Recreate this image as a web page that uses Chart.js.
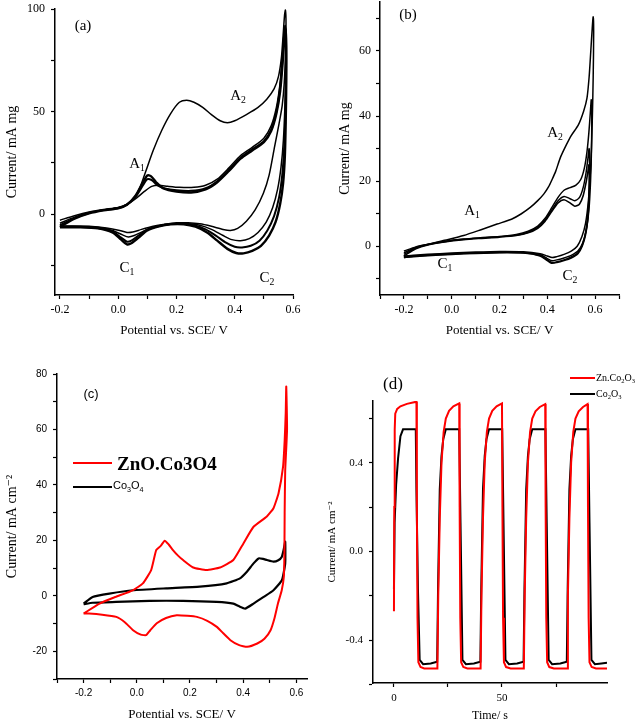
<!DOCTYPE html>
<html>
<head>
<meta charset="utf-8">
<title>CV and chronoamperometry</title>
<script src="https://cdn.jsdelivr.net/npm/chart.js@4.4.1/dist/chart.umd.min.js"></script>
<style>
body{margin:0;background:#fff;}
#page{position:relative;width:641px;height:722px;overflow:hidden;font-family:"Liberation Serif",serif;color:#000;}
canvas{position:absolute;}
.lbl{position:absolute;white-space:nowrap;line-height:1;transform:translate(-50%,-50%);}
.lft{transform:translate(0,-50%);}
.s{font-size:0.65em;position:relative;top:0.35em;}
.sw{position:absolute;height:2px;}
</style>
</head>
<body>
<div id="page">
  <canvas id="ca" width="320" height="355" style="left:0;top:-10px"></canvas>
  <canvas id="cb" width="321" height="355" style="left:320px;top:-10px"></canvas>
  <canvas id="cc" width="320" height="377" style="left:0;top:345px"></canvas>
  <canvas id="cd" width="321" height="377" style="left:320px;top:345px"></canvas>

  <!-- panel labels -->
  <div class="lbl" style="left:83px;top:25px;font-size:15px">(a)</div>
  <div class="lbl" style="left:238px;top:95px;font-size:15px">A<span class="s">2</span></div>
  <div class="lbl" style="left:137px;top:163px;font-size:15px">A<span class="s">1</span></div>
  <div class="lbl" style="left:127px;top:267px;font-size:15px">C<span class="s">1</span></div>
  <div class="lbl" style="left:267px;top:277px;font-size:15px">C<span class="s">2</span></div>

  <div class="lbl" style="left:408px;top:14px;font-size:15px">(b)</div>
  <div class="lbl" style="left:555px;top:132px;font-size:15px">A<span class="s">2</span></div>
  <div class="lbl" style="left:472px;top:210px;font-size:15px">A<span class="s">1</span></div>
  <div class="lbl" style="left:445px;top:263px;font-size:15px">C<span class="s">1</span></div>
  <div class="lbl" style="left:570px;top:275px;font-size:15px">C<span class="s">2</span></div>

  <div class="lbl" style="left:91px;top:393px;font-size:13px;font-family:'Liberation Sans',sans-serif">(c)</div>
  <div class="sw" style="left:73px;top:462px;width:39px;background:#ff0000"></div>
  <div class="lbl lft" style="left:117px;top:463px;font-size:19px;font-weight:bold">ZnO.Co3O4</div>
  <div class="sw" style="left:73px;top:486px;width:39px;background:#000"></div>
  <div class="lbl lft" style="left:113px;top:486px;font-size:11px;font-family:'Liberation Sans',sans-serif">Co<span class="s">3</span>O<span class="s">4</span></div>

  <div class="lbl" style="left:393px;top:383px;font-size:17px">(d)</div>
  <div class="sw" style="left:570px;top:377px;width:25px;background:#ff0000"></div>
  <div class="lbl lft" style="left:596px;top:378px;font-size:10px">Zn.Co<span class="s">2</span>O<span class="s">3</span></div>
  <div class="sw" style="left:570px;top:393px;width:25px;background:#000"></div>
  <div class="lbl lft" style="left:596px;top:394px;font-size:10px">Co<span class="s">2</span>O<span class="s">3</span></div>
</div>
<script>
// (a) CV cycles, [potential V, current]
var aCycle1 = [[-0.2,-3],[-0.15,-0.8],[-0.1,1],[-0.05,2.2],[0,3.2],[0.03,4.8],[0.055,8],[0.075,13],[0.095,21],[0.12,31],[0.15,41],[0.18,49],[0.21,54.5],[0.235,55.5],[0.26,54.5],[0.29,52],[0.32,48.5],[0.35,45.5],[0.375,44.5],[0.4,45.5],[0.44,48.5],[0.48,52],[0.51,56],[0.535,61],[0.55,67],[0.56,76],[0.566,87],[0.571,97],[0.574,99.5],[0.576,93],[0.574,78],[0.57,64],[0.563,53],[0.552,44],[0.537,33],[0.518,19],[0.498,10],[0.47,2],[0.44,-3.5],[0.41,-7],[0.385,-8],[0.36,-7.5],[0.32,-6],[0.28,-4.8],[0.24,-4.3],[0.2,-4.3],[0.16,-5],[0.12,-6],[0.08,-7.5],[0.05,-8.8],[0.03,-9],[0.005,-8],[-0.04,-6.8],[-0.1,-6],[-0.16,-5.8],[-0.2,-5.8]];
var aCycle2 = [[-0.2,-4.5],[-0.15,-1.5],[-0.1,0.8],[-0.05,2],[0,3],[0.03,4.6],[0.06,7.5],[0.09,11],[0.115,13.5],[0.14,14],[0.17,13.5],[0.21,13],[0.26,13],[0.3,14],[0.34,17],[0.38,22.5],[0.42,28.5],[0.46,32.5],[0.5,37],[0.525,43],[0.543,52],[0.555,63],[0.563,76],[0.569,88],[0.573,92],[0.576,86],[0.575,70],[0.572,52],[0.567,36],[0.559,23],[0.547,12],[0.53,3],[0.508,-4],[0.48,-9],[0.45,-12],[0.42,-13],[0.39,-12.5],[0.36,-10.5],[0.32,-7.5],[0.28,-5.5],[0.24,-4.8],[0.2,-4.8],[0.16,-5.3],[0.12,-6.5],[0.085,-8.5],[0.055,-10.5],[0.035,-11.2],[0.015,-10.2],[-0.02,-8],[-0.07,-6.5],[-0.13,-6],[-0.2,-6]];
var aCycle3 = [[-0.2,-5.5],[-0.15,-2],[-0.1,0.5],[-0.05,1.9],[0,2.9],[0.03,4.6],[0.06,8.5],[0.085,14],[0.1,17],[0.115,16.5],[0.135,14],[0.16,12.5],[0.2,11.6],[0.25,11.3],[0.3,12.6],[0.34,16],[0.38,21.5],[0.42,27.5],[0.46,31.5],[0.5,35.5],[0.525,41],[0.543,50],[0.555,61],[0.563,74],[0.569,86],[0.573,91],[0.576,84],[0.576,68],[0.574,50],[0.57,33],[0.563,19],[0.552,8],[0.535,-1],[0.512,-8],[0.485,-13],[0.455,-15.5],[0.425,-16.3],[0.4,-16],[0.37,-14],[0.335,-10.5],[0.3,-7.5],[0.26,-5.5],[0.22,-4.8],[0.18,-4.9],[0.14,-5.8],[0.1,-7.5],[0.07,-10.5],[0.045,-13],[0.03,-13.5],[0.01,-11.5],[-0.02,-8.5],[-0.07,-6.8],[-0.13,-6.3],[-0.2,-6.3]];
var aCycle4 = [[-0.2,-6.3],[-0.15,-2.3],[-0.1,0.3],[-0.05,1.8],[0,2.8],[0.03,4.5],[0.06,9],[0.085,15.5],[0.1,18.8],[0.112,18.5],[0.13,15.5],[0.155,12.5],[0.2,11],[0.25,10.5],[0.3,12],[0.34,15.5],[0.38,21],[0.42,27],[0.46,31],[0.5,35],[0.525,40.5],[0.543,49],[0.556,60],[0.564,73],[0.57,85],[0.574,90],[0.577,82],[0.577,65],[0.575,45],[0.572,28],[0.566,15],[0.556,5],[0.54,-4],[0.518,-10.5],[0.49,-15.5],[0.46,-18],[0.43,-19.2],[0.405,-19],[0.375,-17],[0.34,-13],[0.305,-9],[0.265,-6.2],[0.225,-5],[0.18,-5],[0.14,-6],[0.1,-8],[0.07,-11.5],[0.045,-14.3],[0.03,-14.8],[0.01,-12.5],[-0.02,-9],[-0.07,-7],[-0.13,-6.5],[-0.2,-6.5]];

// (b) CV cycles
var bCycle1 = [[-0.2,-1.5],[-0.15,-0.2],[-0.09,0.7],[-0.03,1.8],[0.05,3.3],[0.12,5],[0.19,6.8],[0.25,8.3],[0.29,9.9],[0.33,12],[0.36,14],[0.385,16],[0.405,18.2],[0.42,20.5],[0.435,23],[0.455,27.3],[0.48,31.2],[0.5,34],[0.53,37.3],[0.552,41.5],[0.566,45.5],[0.575,52],[0.582,60],[0.588,67],[0.592,70.5],[0.594,66],[0.592,52],[0.588,38],[0.582,25],[0.572,14],[0.56,7],[0.545,3],[0.525,0],[0.5,-1.5],[0.47,-2.5],[0.44,-3.2],[0.42,-3.5],[0.4,-3],[0.37,-2.3],[0.3,-1.7],[0.2,-1.6],[0.1,-1.8],[0,-2.1],[-0.1,-2.5],[-0.16,-2.8],[-0.2,-3]];
var bCycle2 = [[-0.2,-2],[-0.15,-0.4],[-0.1,0.6],[-0.03,1.5],[0.05,2.2],[0.12,2.6],[0.2,3],[0.27,3.6],[0.32,4.6],[0.36,6.2],[0.39,8.5],[0.42,12],[0.445,15],[0.47,17.2],[0.495,18],[0.52,18.8],[0.54,20.5],[0.555,24],[0.566,29],[0.574,35],[0.58,41],[0.584,45],[0.586,40],[0.585,30],[0.581,20],[0.574,11],[0.563,5],[0.548,1],[0.528,-1.5],[0.5,-2.8],[0.47,-3.6],[0.44,-4.2],[0.42,-4.5],[0.4,-3.8],[0.37,-2.6],[0.3,-1.9],[0.2,-1.8],[0.1,-2],[0,-2.3],[-0.1,-2.7],[-0.16,-3],[-0.2,-3.2]];
var bCycle3 = [[-0.2,-2.5],[-0.15,-0.6],[-0.1,0.5],[-0.03,1.4],[0.05,2.1],[0.12,2.5],[0.2,2.9],[0.27,3.4],[0.32,4.3],[0.36,5.8],[0.39,8],[0.42,11.3],[0.445,14],[0.47,15.3],[0.495,14.6],[0.515,14],[0.535,15],[0.55,18],[0.562,22.5],[0.57,27],[0.575,30],[0.577,25],[0.575,17],[0.57,10],[0.561,4.5],[0.547,0.5],[0.528,-2],[0.5,-3.3],[0.47,-4.2],[0.44,-4.8],[0.42,-5],[0.4,-4.2],[0.37,-2.9],[0.3,-2],[0.2,-1.9],[0.1,-2.1],[0,-2.4],[-0.1,-2.8],[-0.16,-3.1],[-0.2,-3.4]];
var bCycle4 = [[-0.2,-3],[-0.15,-0.8],[-0.1,0.4],[-0.03,1.3],[0.05,2],[0.12,2.4],[0.2,2.8],[0.27,3.3],[0.32,4.1],[0.36,5.5],[0.39,7.6],[0.42,10.8],[0.445,13.3],[0.47,14.3],[0.495,13.3],[0.515,12.3],[0.535,13],[0.55,15.5],[0.562,19.5],[0.57,23],[0.574,25],[0.576,21],[0.574,14],[0.569,8],[0.56,3.5],[0.546,0],[0.528,-2.3],[0.5,-3.6],[0.47,-4.4],[0.44,-5],[0.418,-5.2],[0.4,-4.4],[0.37,-3],[0.3,-2.1],[0.2,-2],[0.1,-2.2],[0,-2.5],[-0.1,-2.9],[-0.16,-3.2],[-0.2,-3.5]];

// (c) ZnO.Co3O4 vs Co3O4
var cZnO = [[-0.2,-6.4],[-0.14,-2.8],[-0.08,-0.4],[-0.015,2],[0.023,4.5],[0.054,9.3],[0.073,16.5],[0.09,18],[0.105,19.9],[0.12,18.5],[0.136,16.5],[0.155,14.5],[0.174,12.9],[0.212,10.2],[0.262,9.3],[0.313,10.2],[0.363,12.9],[0.401,18.9],[0.439,24.9],[0.489,28.6],[0.514,31.6],[0.533,37],[0.55,46.6],[0.556,56],[0.56,66],[0.562,75.5],[0.565,60],[0.558,45],[0.556,30],[0.555,15],[0.553,7],[0.545,2],[0.531,-2.7],[0.518,-8],[0.503,-12.4],[0.48,-15.5],[0.453,-17.2],[0.415,-18.4],[0.385,-17.8],[0.352,-16],[0.325,-13.5],[0.301,-11.2],[0.265,-9],[0.226,-7.6],[0.19,-7.2],[0.15,-7],[0.11,-8],[0.075,-9.9],[0.05,-12.5],[0.035,-14.2],[0.015,-14],[-0.014,-12.4],[-0.045,-9.5],[-0.077,-7.6],[-0.13,-6.8],[-0.179,-6.4],[-0.2,-6.4]];
var cCo = [[-0.2,-2.8],[-0.166,-0.4],[-0.103,0.8],[-0.015,2],[0.111,2.7],[0.237,3.3],[0.338,4.5],[0.388,6.3],[0.414,8.7],[0.439,11.7],[0.458,13.5],[0.475,13.3],[0.489,12.9],[0.514,12.3],[0.532,12.8],[0.545,14],[0.552,16.5],[0.558,19.5],[0.558,11.7],[0.546,5.7],[0.514,2],[0.477,-0.4],[0.439,-2.8],[0.407,-4.6],[0.385,-3.8],[0.363,-2.8],[0.3,-2.2],[0.174,-1.8],[0.048,-1.8],[-0.078,-2.2],[-0.166,-2.5],[-0.2,-3]];

// (d) chronoamperometry, [time s, current]
var dZnCo = [[0,-0.27],[0.15,0.2],[0.35,0.55],[0.6,0.622],[1.5,0.643],[3,0.655],[6,0.666],[10.4,0.676],
  [10.6,0.2],[10.9,-0.3],[11.3,-0.5],[12.3,-0.522],[14,-0.528],[20.1,-0.528],
  [20.5,-0.2],[21.2,0.15],[22,0.4],[23,0.54],[24,0.6],[25.5,0.635],[27.5,0.655],[30.2,0.668],
  [30.4,0.2],[30.7,-0.3],[31.1,-0.5],[32.1,-0.522],[34,-0.528],[40.1,-0.528],
  [40.5,-0.2],[41.2,0.15],[42,0.4],[43,0.54],[44,0.6],[45.5,0.635],[47.5,0.655],[50,0.668],
  [50.2,0.2],[50.5,-0.3],[50.9,-0.5],[51.9,-0.522],[54,-0.528],[60.1,-0.528],
  [60.5,-0.2],[61.2,0.15],[62,0.4],[63,0.54],[64,0.6],[65.5,0.632],[67.5,0.652],[70,0.665],
  [70.2,0.2],[70.5,-0.3],[70.9,-0.5],[71.9,-0.522],[74,-0.528],[80.1,-0.528],
  [80.5,-0.2],[81.2,0.15],[82,0.4],[83,0.54],[84,0.6],[85.5,0.632],[87.5,0.652],[89.6,0.665],
  [89.8,0.2],[90.1,-0.3],[90.5,-0.5],[91.5,-0.522],[93.5,-0.528],[98.6,-0.528]];
var dCo = [[0,-0.17],[0.3,0.13],[1,0.3],[1.9,0.42],[3,0.52],[4.2,0.551],[10.1,0.551],[10.4,0.28],[11.1,-0.17],[11.9,-0.49],[13.5,-0.509],[17,-0.506],[20,-0.498],
  [20.4,-0.17],[21.2,0.28],[22,0.43],[22.8,0.506],[24,0.551],[30.2,0.551],[30.8,0.13],[31.7,-0.49],[33.3,-0.509],[37,-0.506],[40,-0.498],
  [40.4,-0.17],[41.2,0.28],[42,0.43],[42.8,0.506],[44,0.551],[50.1,0.551],[50.7,0.13],[51.6,-0.49],[53.2,-0.509],[57,-0.506],[60,-0.498],
  [60.4,-0.17],[61.2,0.28],[62,0.43],[62.8,0.506],[64,0.551],[70.1,0.551],[70.7,0.13],[71.6,-0.49],[73.2,-0.509],[77,-0.506],[80,-0.498],
  [80.4,-0.17],[81.2,0.28],[82,0.43],[82.8,0.506],[84,0.551],[89.9,0.551],[90.5,0.13],[91.4,-0.49],[93,-0.509],[96,-0.506],[98.6,-0.503]];

// ticks and labels
var xTicksA = [-0.2,-0.1,0,0.1,0.2,0.3,0.4,0.5,0.6];
var xLabelsA = ['-0.2','','0.0','','0.2','','0.4','','0.6'];
var yTicksA = [-25,0,25,50,75,100];
var yLabelsA = ['','0','','50','','100'];
var xTicksB = [-0.3,-0.2,-0.1,0,0.1,0.2,0.3,0.4,0.5,0.6,0.7];
var xLabelsB = ['','-0.2','','0.0','','0.2','','0.4','','0.6',''];
var yTicksB = [-10,0,10,20,30,40,50,60,70];
var yLabelsB = ['','0','','20','','40','','60',''];
var xTicksC = [-0.3,-0.2,-0.1,0,0.1,0.2,0.3,0.4,0.5,0.6];
var xLabelsC = ['','-0.2','','0.0','','0.2','','0.4','','0.6'];
var yTicksC = [-30,-20,-10,0,10,20,30,40,50,60,70,80];
var yLabelsC = ['','-20','','0','','20','','40','','60','','80'];
var xTicksD = [0,25,50,75];
var xLabelsD = ['0','','50',''];
var yTicksD = [-0.6,-0.4,-0.2,0,0.2,0.4,0.6];
var yLabelsD = ['','-0.4','','0.0','','0.4',''];

var serif = '"Liberation Serif", "DejaVu Serif", serif';
var sans = '"Liberation Sans", Arial, sans-serif';

function scaleOpts(a) {
  return {
    type: 'linear', min: a.min, max: a.max,
    afterBuildTicks: function(s) { s.ticks = a.ticks.map(function(v) { return {value: v}; }); },
    afterFit: function(s) { if (a.width) s.width = a.width; if (a.height) s.height = a.height; },
    ticks: {callback: function(v, i) { return a.labels[i]; }, color: '#000', font: a.tickFont,
            padding: a.tickPad, maxRotation: 0, autoSkip: false},
    grid: {drawOnChartArea: false, color: '#000', tickLength: 4, tickWidth: 1.2},
    border: {color: '#000', width: 1.5},
    title: {display: true, text: a.title, color: '#000', font: a.titleFont, padding: a.titlePad}
  };
}

function plot(id, sets, o) {
  return new Chart(document.getElementById(id), {
    type: 'scatter',
    data: {datasets: sets.map(function(s) {
      return {data: s.pts.map(function(p) { return {x: p[0], y: p[1]}; }),
              showLine: true, borderColor: s.color, borderWidth: s.width,
              pointRadius: 0, tension: o.tension, fill: false};
    })},
    options: {
      responsive: false, animation: false, events: [],
      layout: {padding: o.pad},
      plugins: {legend: {display: false}, tooltip: {enabled: false}},
      scales: {x: scaleOpts(o.x), y: scaleOpts(o.y)}
    }
  });
}

plot('ca', [
  {pts: aCycle4, color: '#000', width: 2.4},
  {pts: aCycle3, color: '#000', width: 2},
  {pts: aCycle2, color: '#000', width: 1.5},
  {pts: aCycle1, color: '#000', width: 1.5}
], {
  tension: 0.25, pad: {top: 19, right: 27, left: 0, bottom: 0},
  x: {min: -0.217, max: 0.6, ticks: xTicksA, labels: xLabelsA, height: 50,
      tickFont: {family: serif, size: 12}, tickPad: 4,
      title: 'Potential vs. SCE/ V', titleFont: {family: serif, size: 13}, titlePad: {bottom: 7}},
  y: {min: -39.5, max: 100, ticks: yTicksA, labels: yLabelsA, width: 55,
      tickFont: {family: serif, size: 12}, tickPad: 6,
      title: 'Current/ mA mg', titleFont: {family: serif, size: 14}, titlePad: {top: 4}}
});

plot('cb', [
  {pts: bCycle4, color: '#000', width: 1.6},
  {pts: bCycle3, color: '#000', width: 1.5},
  {pts: bCycle2, color: '#000', width: 1.5},
  {pts: bCycle1, color: '#000', width: 1.5}
], {
  tension: 0.25, pad: {top: 11, right: 22, left: 17, bottom: 0},
  x: {min: -0.3, max: 0.7, ticks: xTicksB, labels: xLabelsB, height: 50,
      tickFont: {family: serif, size: 12}, tickPad: 4,
      title: 'Potential vs. SCE/ V', titleFont: {family: serif, size: 13}, titlePad: {bottom: 7}},
  y: {min: -15, max: 75, ticks: yTicksB, labels: yLabelsB, width: 43,
      tickFont: {family: serif, size: 12}, tickPad: 5,
      title: 'Current/ mA mg', titleFont: {family: serif, size: 14}, titlePad: {top: 0}}
});

plot('cc', [
  {pts: cZnO, color: '#ff0000', width: 2},
  {pts: cCo, color: '#000', width: 2.2}
], {
  tension: 0.15, pad: {top: 29, right: 13, left: 0, bottom: 0},
  x: {min: -0.3, max: 0.64, ticks: xTicksC, labels: xLabelsC, height: 43,
      tickFont: {family: sans, size: 10}, tickPad: 4,
      title: 'Potential vs. SCE/ V', titleFont: {family: serif, size: 13, lineHeight: 1}, titlePad: {bottom: 0.5}},
  y: {min: -30, max: 80, ticks: yTicksC, labels: yLabelsC, width: 57,
      tickFont: {family: sans, size: 10}, tickPad: 6,
      title: 'Current/ mA cm⁻²', titleFont: {family: serif, size: 14}, titlePad: {top: 4}}
});

plot('cd', [
  {pts: dZnCo, color: '#ff0000', width: 2},
  {pts: dCo, color: '#000', width: 2}
], {
  tension: 0, pad: {top: 56, right: 34, left: 0, bottom: 0},
  x: {min: -9.7, max: 98.6, ticks: xTicksD, labels: xLabelsD, height: 39,
      tickFont: {family: serif, size: 11}, tickPad: 5,
      title: 'Time/ s', titleFont: {family: serif, size: 12, lineHeight: 1}, titlePad: {bottom: 0}},
  y: {min: -0.594, max: 0.679, ticks: yTicksD, labels: yLabelsD, width: 53,
      tickFont: {family: serif, size: 11}, tickPad: 6,
      title: 'Current/ mA cm⁻²', titleFont: {family: serif, size: 11}, titlePad: {top: 5.4}}
});
</script>
</body>
</html>
